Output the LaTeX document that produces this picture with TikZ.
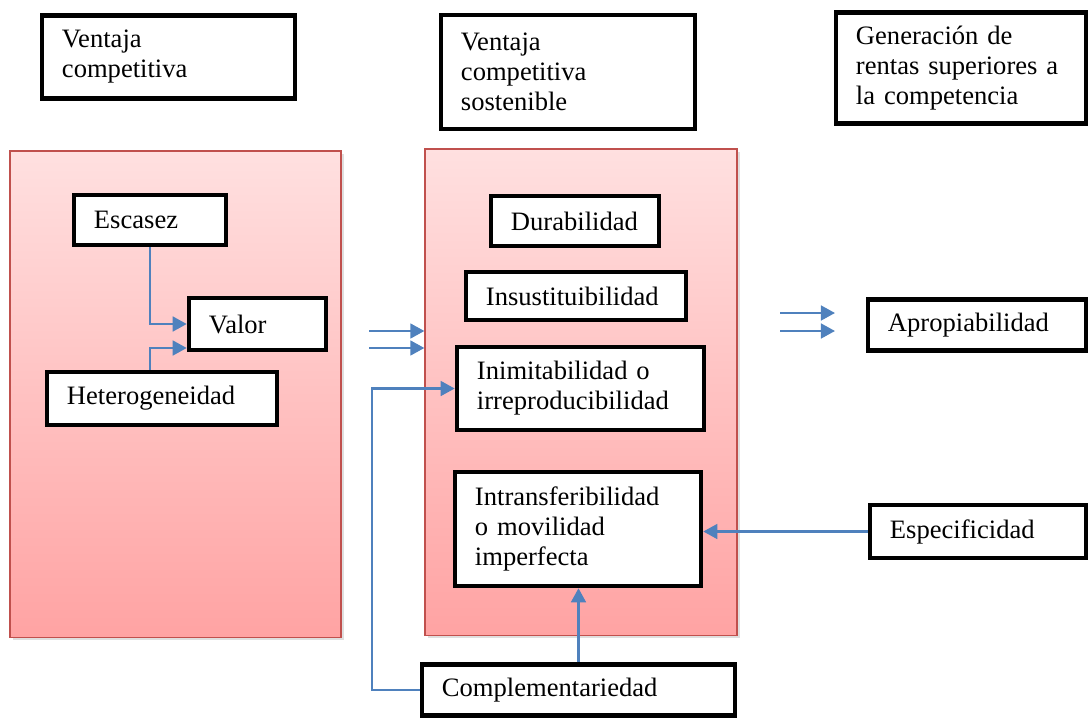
\documentclass[tikz,border=0pt]{standalone}
\usepackage{fontspec}
\setmainfont{Liberation Serif}
\usetikzlibrary{arrows.meta,positioning,shadows}
\definecolor{linkblue}{HTML}{4F81BD}
\definecolor{panelred}{HTML}{C0504D}
\definecolor{pinktop}{HTML}{FFE0E0}
\definecolor{pinkbot}{HTML}{FFA3A3}
\tikzset{
  box/.style={draw, line width=3.2pt, fill=white, align=left,
    inner xsep=0.5cm, inner ysep=0pt,
    font={\fontsize{18.9pt}{21.3pt}\selectfont}},
  panel/.style={draw=panelred, line width=0.8pt, top color=pinktop,
    bottom color=pinkbot, inner sep=0pt,
    drop shadow={shadow xshift=2pt, shadow yshift=-2pt, opacity=0.25}},
  link/.style={linkblue, line width=1.7pt,
    -{Triangle[length=10pt,width=10.5pt]}}
}

\begin{document}
\begin{tikzpicture}[x=0.025cm,y=-0.025cm]
  \useasboundingbox (0,0) rectangle (1088,718);
  % Pink panels
  \node[panel, minimum width=8.275cm, minimum height=12.15cm] (rbvpnl) at (175.5,394) {};
  \node[panel, minimum width=7.8cm, minimum height=12.15cm] (ecsnpnl) at (581,392) {};
  % Headings
  \node[box, text width=5.325cm, minimum height=2.075cm] (vc) at (168.5,57) {Ventaja\\competitiva};
  \node[box, text width=5.35cm, minimum height=2.85cm] (vcs) at (568,72) {Ventaja\\competitiva\\sostenible};
  \node[box, text width=5.25cm, minimum height=2.775cm] (rentas) at (961,68) {Generación de\\rentas superiores a\\la competencia};
  % Left panel
  \node[box, text width=2.8cm, minimum height=1.25cm] (escasez) at (150,220) {Escasez};
  \node[box, text width=2.425cm, minimum height=1.3cm] (valor) at (257.5,324) {Valor};
  \node[box, text width=4.75cm, minimum height=1.325cm] (hetero) at (162,398.5) {Heterogeneidad};
  % Middle panel
  \node[box, text width=3.2cm, minimum height=1.25cm] (durab) at (575,221) {Durabilidad};
  \node[box, text width=4.5cm, minimum height=1.2cm] (insust) at (576,296) {Insustituibilidad};
  \node[box, text width=5.175cm, minimum height=2.075cm] (inimit) at (580.5,388.5) {Inimitabilidad o\\irreproducibilidad};
  \node[box, text width=5.15cm, minimum height=2.85cm] (intransf) at (578,529) {Intransferibilidad\\o movilidad\\imperfecta};
  % Right side and bottom
  \node[box, text width=4.45cm, minimum height=1.275cm] (aprop) at (977,325) {Apropiabilidad};
  \node[box, text width=4.4cm, minimum height=1.325cm] (especif) at (978,531.5) {Especificidad};
  \node[box, text width=6.825cm, minimum height=1.275cm] (complem) at (578.5,690) {Complementariedad};
  % Connectors
  \draw[link] (escasez.south) |- (valor.west);
  \draw[link] ([xshift=-0.3cm]hetero.north) |- ([yshift=-0.6cm]valor.west);
  \coordinate (in1) at (369,331);
  \coordinate (in2) at (369,348);
  \draw[link] (in1) -- (in1 -| ecsnpnl.west);
  \draw[link] (in2) -- (in2 -| ecsnpnl.west);
  \coordinate (out1) at (780,313);
  \coordinate (out1e) at (835,313);
  \coordinate (out2) at (780,331);
  \coordinate (out2e) at (835,331);
  \draw[link] (out1) -- (out1e);
  \draw[link] (out2) -- (out2e);
  \draw[link] (especif.west) -- (especif.west -| intransf.east);
  \draw[link] (complem.north) -- (complem.north |- intransf.south);
  \draw[link] (complem.west) -- ++(-48,0) |- (inimit.west);
\end{tikzpicture}
\end{document}
